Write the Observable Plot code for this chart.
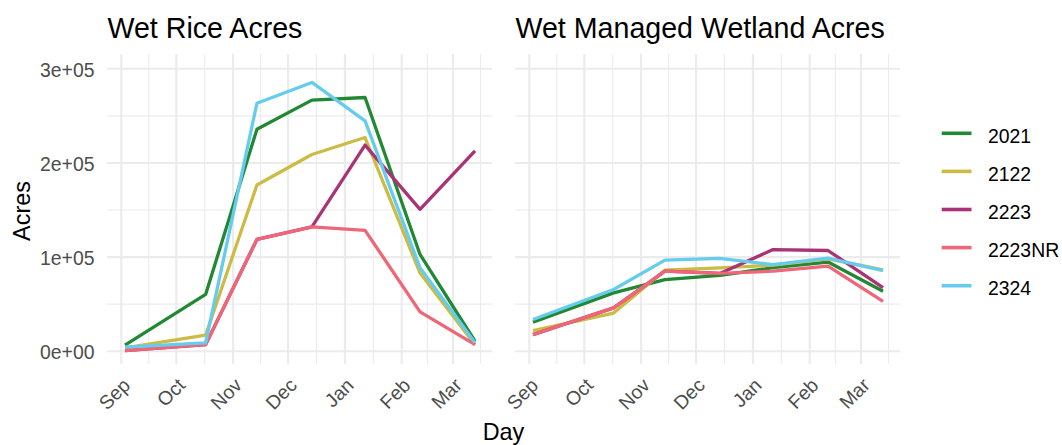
<!DOCTYPE html>
<html>
<head>
<meta charset="utf-8">
<script src="https://cdn.jsdelivr.net/npm/d3@7"></script>
<script src="https://cdn.jsdelivr.net/npm/@observablehq/plot@0.6"></script>
<style>
  html, body { margin: 0; padding: 0; background: #fff; }
  #wrap { position: relative; width: 1062px; height: 445px; font-family: "Liberation Sans", Arial, sans-serif; }
  #wrap > svg { position: absolute; left: 0; top: 0; }
</style>
</head>
<body>
<div id="wrap"></div>
<script>
// ---- data ----
const panels = ["Wet Rice Acres", "Wet Managed Wetland Acres"];
const series = ["2021", "2122", "2223", "2223NR", "2324"];
const colors = ["#228833", "#CCBB44", "#AA3377", "#EE6677", "#66CCEE"];
const dates = ["2022-09-03", "2022-10-17", "2022-11-14", "2022-12-14", "2023-01-12", "2023-02-11", "2023-03-13"];

const rice_2021   = [6400, 60300, 235800, 266700, 269500, 102800, 10600];
const rice_2122   = [3500, 17000, 176600, 209000, 227000, 83000, 7000];
const rice_2223   = [700, 7000, 118800, 132000, 219000, 150700, 212800];
const rice_2223NR = [700, 7000, 118800, 132000, 128400, 41800, 7000];
const rice_2324   = [4300, 8900, 263500, 285500, 244700, 88700, 8900];

const wet_2021   = [30900, 62000, 76000, 80500, 88700, 94700, 63700];
const wet_2122   = [22000, 40500, 86000, 88500, 91500, 98000, 86500];
const wet_2223   = [17700, 46000, 85000, 82600, 108000, 107000, 67500];
const wet_2223NR = [17700, 46000, 85000, 82600, 85000, 90400, 53000];
const wet_2324   = [33700, 65600, 96800, 98600, 92000, 99000, 85700];

const monthTicks  = ["2022-09-01", "2022-10-01", "2022-11-01", "2022-12-01", "2023-01-01", "2023-02-01", "2023-03-01"];
const monthLabels = ["Sep", "Oct", "Nov", "Dec", "Jan", "Feb", "Mar"];
const yTicks      = [0, 100000, 200000, 300000];
const yTickLabels = ["0e+00", "1e+05", "2e+05", "3e+05"];
const yMinor      = [50000, 150000, 250000];

// ---- build table ----
const riceSets = [rice_2021, rice_2122, rice_2223, rice_2223NR, rice_2324];
const wetSets  = [wet_2021, wet_2122, wet_2223, wet_2223NR, wet_2324];
const rows = [];
[riceSets, wetSets].forEach((sets, p) => {
  sets.forEach((vals, s) => {
    vals.forEach((v, i) => rows.push({panel: panels[p], series: series[s], date: new Date(dates[i] + "T00:00:00Z"), value: v}));
  });
});
const majorX = monthTicks.map(d => new Date(d + "T00:00:00Z"));
const minorX = [];
for (let i = 0; i < majorX.length; i++) {
  const a = majorX[i];
  const b = i + 1 < majorX.length ? majorX[i + 1] : new Date(+a + (majorX[1] - majorX[0]));
  minorX.push(new Date((+a + +b) / 2));
}

const chart = Plot.plot({
  width: 1062,
  height: 445,
  marginLeft: 107,
  marginRight: 162,
  marginTop: 54,
  marginBottom: 81,
  style: {fontFamily: "'Liberation Sans', Arial, sans-serif", background: "white", overflow: "visible"},
  fx: {domain: panels, paddingInner: 0.0564, paddingOuter: 0, axis: null},
  x: {type: "utc", domain: [new Date("2022-08-24T11:00:00Z"), new Date("2023-03-22T13:00:00Z")], axis: null},
  y: {domain: [-14100, 315200], axis: null},
  color: {domain: series, range: colors},
  marks: [
    Plot.ruleX(minorX, {x: d => d, stroke: "#ebebeb", strokeWidth: 1.1}),
    Plot.ruleY(yMinor, {y: d => d, stroke: "#ebebeb", strokeWidth: 1.1}),
    Plot.ruleX(majorX, {x: d => d, stroke: "#ebebeb", strokeWidth: 2.1}),
    Plot.ruleY(yTicks, {y: d => d, stroke: "#ebebeb", strokeWidth: 2.1}),
    Plot.lineY(rows, {fx: "panel", x: "date", y: "value", z: "series", stroke: "series", strokeWidth: 3.3, strokeLinecap: "butt", strokeLinejoin: "round"}),
    Plot.axisY({ticks: yTicks, tickFormat: d => yTickLabels[yTicks.indexOf(d)], tickSize: 0, tickPadding: 13, fontSize: 19.4, color: "#4d4d4d", label: null, dy: 2}),
    Plot.text(majorX, {x: d => d, text: (d, i) => monthLabels[i], frameAnchor: "bottom", rotate: -45, textAnchor: "end", lineAnchor: "bottom", dx: 10, dy: 22, fontSize: 19.4, fill: "#4d4d4d"}),
    Plot.text(panels, {fx: d => d, text: d => d, frameAnchor: "top-left", textAnchor: "start", lineAnchor: "bottom", dy: -17, fontSize: 28.6, fill: "black"})
  ]
});

const wrap = document.getElementById("wrap");
wrap.appendChild(chart);

// ---- overlay: axis titles and legend ----
const ov = d3.select(wrap).append("svg")
  .attr("width", 1062).attr("height", 445)
  .style("pointer-events", "none")
  .style("font-family", "'Liberation Sans', Arial, sans-serif");

ov.append("text").attr("x", 503.5).attr("y", 440).attr("text-anchor", "middle")
  .attr("font-size", 23.4).attr("fill", "black").text("Day");
ov.append("text").attr("transform", "translate(30,211) rotate(-90)").attr("text-anchor", "middle")
  .attr("font-size", 23.4).attr("fill", "black").text("Acres");

const lg = ov.append("g");
series.forEach((s, i) => {
  const y = 133.3 + i * 38.1;
  lg.append("line").attr("x1", 941.7).attr("x2", 971.5).attr("y1", y).attr("y2", y)
    .attr("stroke", colors[i]).attr("stroke-width", 3.6);
  lg.append("text").attr("x", 988).attr("y", y + 9.4).attr("font-size", 19.4).attr("fill", "black").text(s);
});
</script>
</body>
</html>
